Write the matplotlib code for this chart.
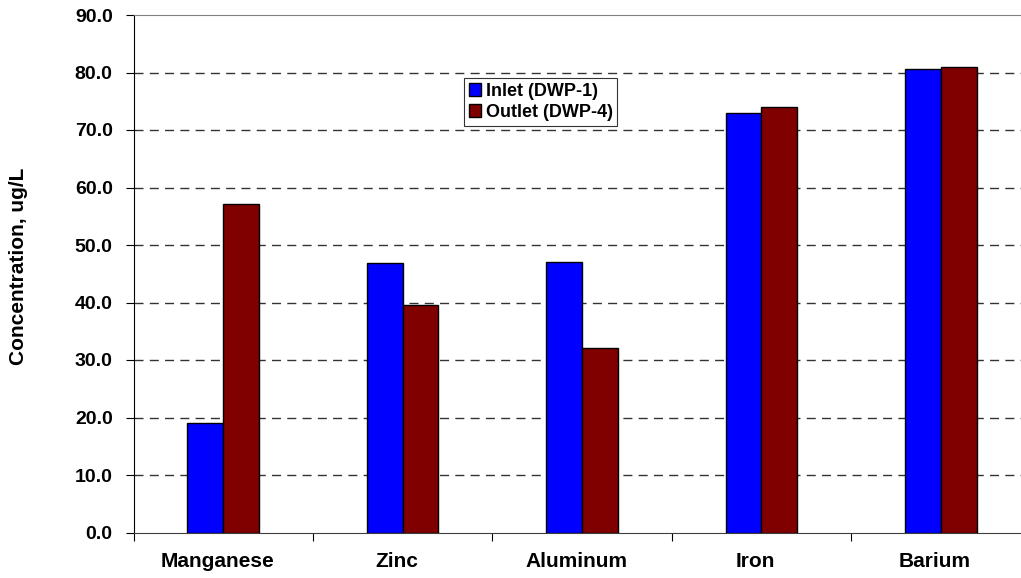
import numpy as np
import matplotlib
matplotlib.use('Agg')
import matplotlib.pyplot as plt
import matplotlib.transforms as mtransforms
from matplotlib.patches import Patch

metals = ["Manganese", "Zinc", "Aluminum", "Iron", "Barium"]
inlet = [19.1, 46.8, 47.0, 72.9, 80.6]    # DWP-1
outlet = [57.1, 39.5, 32.1, 74.0, 81.0]   # DWP-4
yticks = np.arange(0, 91, 10)

plt.rcParams['font.family'] = ['Liberation Sans', 'DejaVu Sans']
plt.rcParams['font.weight'] = 'bold'

fig = plt.figure(figsize=(10.21, 5.78), dpi=100)
# plot area runs past the right edge of the figure
ax = fig.add_axes([133.5 / 1021, 1 - 532.5 / 578, 897 / 1021, 517.5 / 578])

x = np.arange(len(metals)) + 0.5
w = 0.2
ax.bar(x - w / 2, inlet, w, color="#0000FF", edgecolor="black", lw=1.0, zorder=3)
ax.bar(x + w / 2, outlet, w, color="#800000", edgecolor="black", lw=1.0, zorder=3)

ax.set_xlim(0, len(metals))
ax.set_ylim(0, 90)
ax.set_yticks(yticks)
ax.set_yticklabels([f"{v:.1f}" for v in yticks], fontsize=14, fontweight='bold')
ax.set_xticks(np.arange(len(metals) + 1))
ax.set_xticklabels([])
ax.set_xticks(x, minor=True)
ax.set_xticklabels(metals, minor=True, fontsize=15, fontweight='bold')
ax.tick_params(axis='x', which='minor', length=0, pad=14)
ax.tick_params(axis='x', which='major', length=6, width=0.8, direction='out')
ax.tick_params(axis='y', length=6, width=0.8, direction='out', pad=9)

# category names sit a little left of the bar pairs
shift = mtransforms.ScaledTranslation(-6 / 100, 0, fig.dpi_scale_trans)
for lbl in ax.get_xticklabels(minor=True):
    lbl.set_transform(lbl.get_transform() + shift)

for v in yticks[1:-1]:
    ax.axhline(v, color="#333333", lw=1.0, ls=(0, (6.5, 4.5)), zorder=1)

ax.spines['top'].set_color("#808080")
ax.spines['right'].set_visible(False)
ax.spines['left'].set_color("black")
ax.spines['bottom'].set_color("#404040")

ax.set_ylabel("Concentration, ug/L", fontsize=15, fontweight='bold')
ax.yaxis.set_label_coords((28 - 133.5) / 897, 0.515)

handles = [Patch(facecolor="#0000FF", edgecolor="black", lw=1.0),
           Patch(facecolor="#800000", edgecolor="black", lw=1.0)]
leg = ax.legend(handles, ["Inlet (DWP-1)", "Outlet (DWP-4)"],
                loc='upper left', bbox_to_anchor=((464 - 133.5) / 897, 1 - (78 - 15) / 517.5),
                frameon=True, fancybox=False, fontsize=13, handlelength=0.7,
                handleheight=0.7, handletextpad=0.25, borderpad=0.25, labelspacing=0.25,
                borderaxespad=0)
leg.get_frame().set_edgecolor("black")
leg.get_frame().set_linewidth(0.8)
for t in leg.get_texts():
    t.set_fontweight('bold')

fig.savefig("out.png", dpi=100)
